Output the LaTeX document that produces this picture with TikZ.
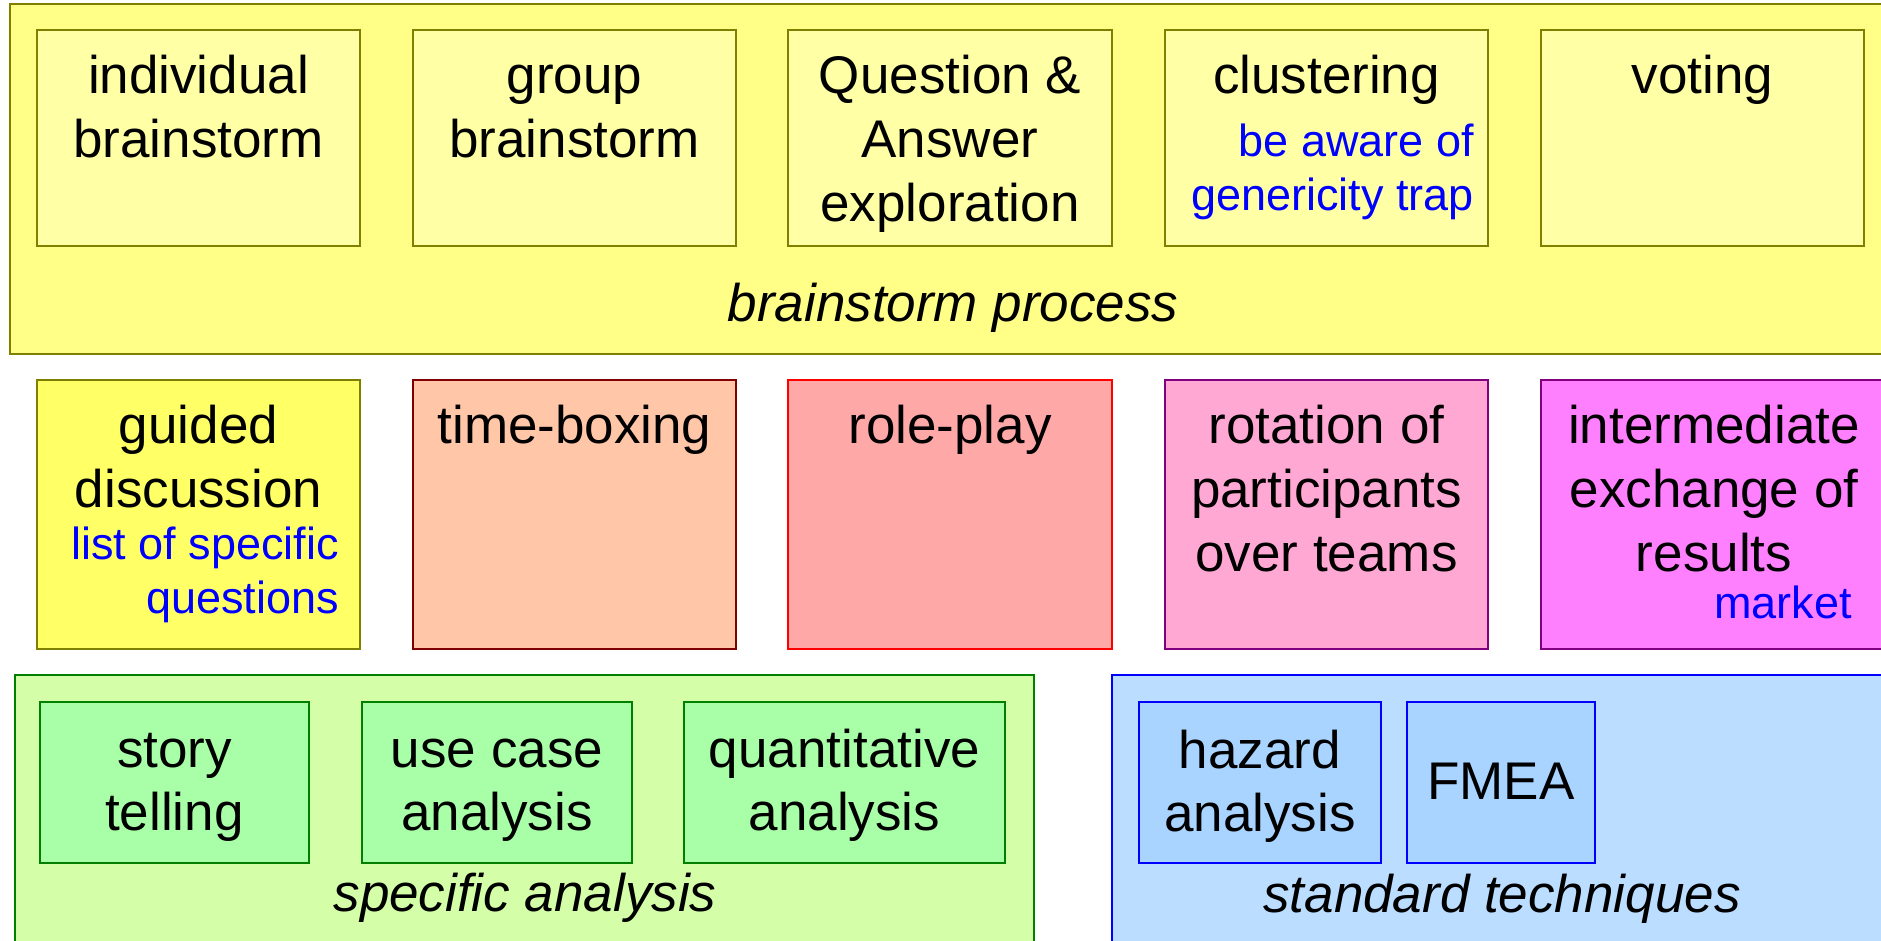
\documentclass[tikz,border=0pt]{standalone}
\usepackage{fontspec}
\setmainfont{Liberation Sans}
\definecolor{ybig}{HTML}{FFFF88}
\definecolor{yin}{HTML}{FFFFA6}
\definecolor{ysat}{HTML}{FFFF66}
\definecolor{oliveb}{HTML}{808000}
\definecolor{peach}{HTML}{FFC6A8}
\definecolor{darkred}{HTML}{800000}
\definecolor{rosered}{HTML}{FFA8A8}
\definecolor{pinkb}{HTML}{FFA8D4}
\definecolor{purpleb}{HTML}{800080}
\definecolor{magb}{HTML}{FF80FF}
\definecolor{gbig}{HTML}{D4FFA8}
\definecolor{gin}{HTML}{A8FFA8}
\definecolor{greenb}{HTML}{008000}
\definecolor{bbig}{HTML}{BBDDFF}
\definecolor{bin}{HTML}{A8D4FF}
\newcommand\strA{\rule{0pt}{40pt}}
\newcommand\strB{\rule{0pt}{34pt}}
\tikzset{
 box/.style={draw, line width=2.2pt, anchor=north west, inner sep=0pt, outer sep=0pt},
 txt/.style={anchor=north, inner sep=0pt, align=center, font=\fontsize{53}{64}\selectfont},
 txtb/.style={anchor=north, inner sep=0pt, align=center, font=\fontsize{53}{63}\selectfont},
 note/.style={anchor=north east, inner sep=0pt, align=right, text=blue, font=\fontsize{45}{54}\selectfont},
 lbl/.style={anchor=base, inner sep=0pt, font=\fontsize{53}{64}\selectfont\itshape},
}
\begin{document}
\begin{tikzpicture}[x=1pt,y=-1pt]
\useasboundingbox (0,0) rectangle (1881,940);
\clip (0,0) rectangle (1881,940);
% brainstorm process group
\node[box, fill=ybig, draw=oliveb, minimum width=1886pt, minimum height=350pt] (bp) at (10,4) {};
\node[box, fill=yin, draw=oliveb, minimum width=323pt, minimum height=216pt] (ib) at (37,30) {};
\node[box, fill=yin, draw=oliveb, minimum width=323pt, minimum height=216pt] (gb) at (413,30) {};
\node[box, fill=yin, draw=oliveb, minimum width=324pt, minimum height=216pt] (qa) at (788,30) {};
\node[box, fill=yin, draw=oliveb, minimum width=323pt, minimum height=216pt] (cl) at (1165,30) {};
\node[box, fill=yin, draw=oliveb, minimum width=323pt, minimum height=216pt] (vo) at (1541,30) {};
\node[txt] (ibt) at (198.5,53) {\strA individual\\brainstorm};
\node[txt] (gbt) at (574.5,53) {\strA group\\brainstorm};
\node[txt] (qat) at (950,53) {\strA Question \&\\Answer\\exploration};
\node[txt] (clt) at (1326.5,53) {\strA clustering};
\node[note] (cln) at (1474,122) {\strB be aware of\\genericity trap};
\node[txt] (vot) at (1702.5,53) {\strA voting};
\node[lbl] (bpl) at (953,321) {brainstorm process};
% second row
\node[box, fill=ysat, draw=oliveb, minimum width=323pt, minimum height=269pt] (gd) at (37,380) {};
\node[box, fill=peach, draw=darkred, minimum width=323pt, minimum height=269pt] (tb) at (413,380) {};
\node[box, fill=rosered, draw=red, minimum width=324pt, minimum height=269pt] (rp) at (788,380) {};
\node[box, fill=pinkb, draw=purpleb, minimum width=323pt, minimum height=269pt] (ro) at (1165,380) {};
\node[box, fill=magb, draw=purpleb, minimum width=346pt, minimum height=269pt] (ie) at (1541,380) {};
\node[txt] (gdt) at (198.5,403) {\strA guided\\discussion};
\node[note] (gdn) at (339,525) {\strB list of specific\\questions};
\node[txt] (tbt) at (574.5,403) {\strA time-boxing};
\node[txt] (rpt) at (950,403) {\strA role-play};
\node[txt] (rot) at (1326.5,403) {\strA rotation of\\participants\\over teams};
\node[txt] (iet) at (1714,403) {\strA intermediate\\exchange of\\results};
\node[note] (ien) at (1852,584) {\strB market};
% specific analysis
\node[box, fill=gbig, draw=greenb, minimum width=1019pt, minimum height=300pt] (sa) at (15,675) {};
\node[box, fill=gin, draw=greenb, minimum width=269pt, minimum height=161pt] (st) at (40,702) {};
\node[box, fill=gin, draw=greenb, minimum width=270pt, minimum height=161pt] (uc) at (362,702) {};
\node[box, fill=gin, draw=greenb, minimum width=321pt, minimum height=161pt] (qn) at (684,702) {};
\node[txtb] (stt) at (174.5,727) {\strA story\\telling};
\node[txtb] (uct) at (497,727) {\strA use case\\analysis};
\node[txtb] (qnt) at (844.5,727) {\strA quantitative\\analysis};
\node[lbl] (sal) at (525,911) {specific analysis};
% standard techniques
\node[box, fill=bbig, draw=blue, minimum width=780pt, minimum height=300pt] (stq) at (1112,675) {};
\node[box, fill=bin, draw=blue, minimum width=242pt, minimum height=161pt] (ha) at (1139,702) {};
\node[box, fill=bin, draw=blue, minimum width=188pt, minimum height=161pt] (fm) at (1407,702) {};
\node[txtb] (hat) at (1260,728) {\strA hazard\\analysis};
\node[txtb] (fmt) at (1501,759) {\strA FMEA};
\node[lbl] (stl) at (1502,912) {standard techniques};
\end{tikzpicture}
\end{document}
